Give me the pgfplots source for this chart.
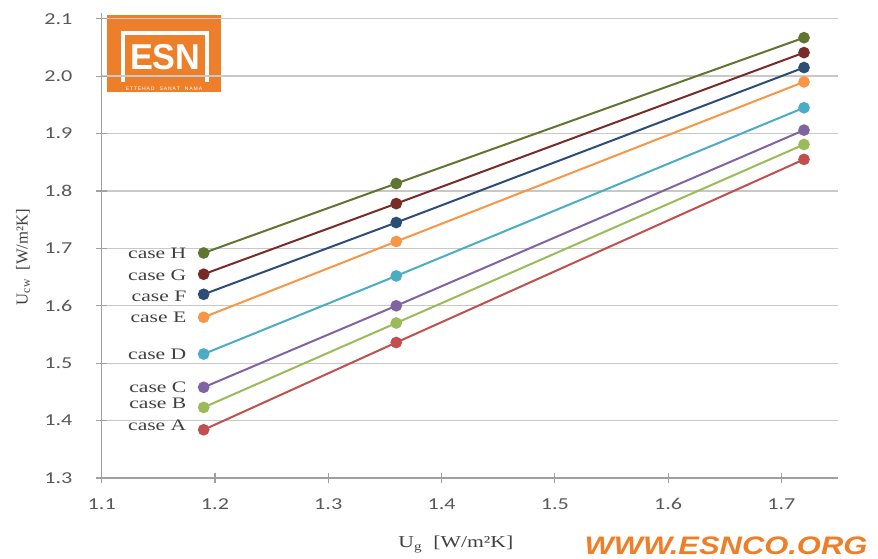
\documentclass[border=0pt]{standalone}
\usepackage{fontspec}
\setmainfont{Liberation Serif}
\newfontfamily\carlito{Carlito}
\newfontfamily\libsans{Liberation Sans}
\usepackage{pgfplots}
\pgfplotsset{compat=1.18}
\definecolor{cA}{HTML}{C0504D}
\definecolor{cB}{HTML}{9BBB59}
\definecolor{cC}{HTML}{8064A2}
\definecolor{cD}{HTML}{4BACC6}
\definecolor{cE}{HTML}{F79646}
\definecolor{cF}{HTML}{2C4D75}
\definecolor{cG}{HTML}{772C2A}
\definecolor{cH}{HTML}{5F7530}
\definecolor{gridc}{HTML}{C8C8C8}
\definecolor{axisc}{HTML}{A0A0A0}
\definecolor{tickc}{HTML}{595959}
\definecolor{labc}{HTML}{404040}
\definecolor{esn}{HTML}{EE7F2A}
\tikzset{lbl/.style={pos=0, anchor=east, inner sep=0, xshift=-12pt, font=\fontsize{12}{14}\selectfont, text=labc, xscale=1.35}}
\begin{document}
\begin{tikzpicture}
\useasboundingbox (0,0) rectangle (658.5pt,418.5pt);
% logo watermark
\fill[esn] (80.25pt,349.5pt) rectangle (165.75pt,407.25pt);
\draw[white, line width=3pt] (92pt,357pt) -- (92pt,394pt) -- (155.5pt,394pt) -- (155.5pt,357pt);
\node[white, font=\libsans\bfseries\fontsize{27}{27}\selectfont, xscale=0.95, inner sep=0] at (124pt,375.5pt) {ESN};
\node[white, font=\libsans\fontsize{3.8}{4}\selectfont, inner sep=0] at (123pt,352.3pt) {E\,T\,T\,E\,H\,A\,D\quad S\,A\,N\,A\,T\quad N\,A\,M\,A};
\begin{axis}[
  at={(76.3pt,60pt)}, anchor=south west,
  scale only axis, width=552.2pt, height=348.75pt,
  xmin=1.1, xmax=1.75, ymin=1.3, ymax=2.11,
  axis x line*=bottom, axis y line*=left,
  axis line style={axisc, line width=1pt, -},
  xtick={1.1,1.2,1.3,1.4,1.5,1.6,1.7},
  xticklabels={1.1,1.2,1.3,1.4,1.5,1.6,1.7},
  ytick={1.3,1.4,1.5,1.6,1.7,1.8,1.9,2.0,2.1},
  yticklabels={1.3,1.4,1.5,1.6,1.7,1.8,1.9,2.0,2.1},
  tick align=center, major tick length=8pt,
  tick style={axisc, line width=0.8pt},
  ymajorgrids, grid style={gridc, line width=1pt},
  tick label style={font=\carlito\fontsize{12.5}{14}\selectfont, text=tickc, xscale=1.33},
  xticklabel style={yshift=-8pt},
  yticklabel style={xshift=-10pt},
  xlabel={U\textsubscript{g}\ \ [W/m²K]},
  ylabel={U\textsubscript{cw}\ \ [W/m²K]},
  xlabel style={at={(axis description cs:0.481,0)}, anchor=center, yshift=-50pt, font=\fontsize{12.5}{14}\selectfont, text=labc, xscale=1.3},
  ylabel style={at={([xshift=-59pt]axis description cs:0,0.475)}, anchor=center, font=\fontsize{12.5}{14}\selectfont, text=labc},
  every axis plot/.append style={line width=1.5pt, mark=*, mark size=3.6pt, mark options={solid}},
  clip=false,
]
\addplot[cA, mark options={fill=cA}] coordinates {(1.19,1.384) (1.36,1.536) (1.72,1.855)} node[lbl, yshift=3.5pt] {case A};
\addplot[cB, mark options={fill=cB}] coordinates {(1.19,1.423) (1.36,1.570) (1.72,1.881)} node[lbl, yshift=3pt] {case B};
\addplot[cC, mark options={fill=cC}] coordinates {(1.19,1.458) (1.36,1.600) (1.72,1.906)} node[lbl] {case C};
\addplot[cD, mark options={fill=cD}] coordinates {(1.19,1.516) (1.36,1.652) (1.72,1.945)} node[lbl] {case D};
\addplot[cE, mark options={fill=cE}] coordinates {(1.19,1.580) (1.36,1.712) (1.72,1.990)} node[lbl] {case E};
\addplot[cF, mark options={fill=cF}] coordinates {(1.19,1.620) (1.36,1.745) (1.72,2.015)} node[lbl, yshift=-1.5pt] {case F};
\addplot[cG, mark options={fill=cG}] coordinates {(1.19,1.655) (1.36,1.778) (1.72,2.041)} node[lbl, yshift=-1pt] {case G};
\addplot[cH, mark options={fill=cH}] coordinates {(1.19,1.692) (1.36,1.813) (1.72,2.067)} node[lbl] {case H};
\end{axis}
\node[esn, font=\libsans\bfseries\itshape\fontsize{19}{20}\selectfont, xscale=1.22, inner sep=0] at (544.5pt,9.5pt) {WWW.ESNCO.ORG};
\end{tikzpicture}
\end{document}
